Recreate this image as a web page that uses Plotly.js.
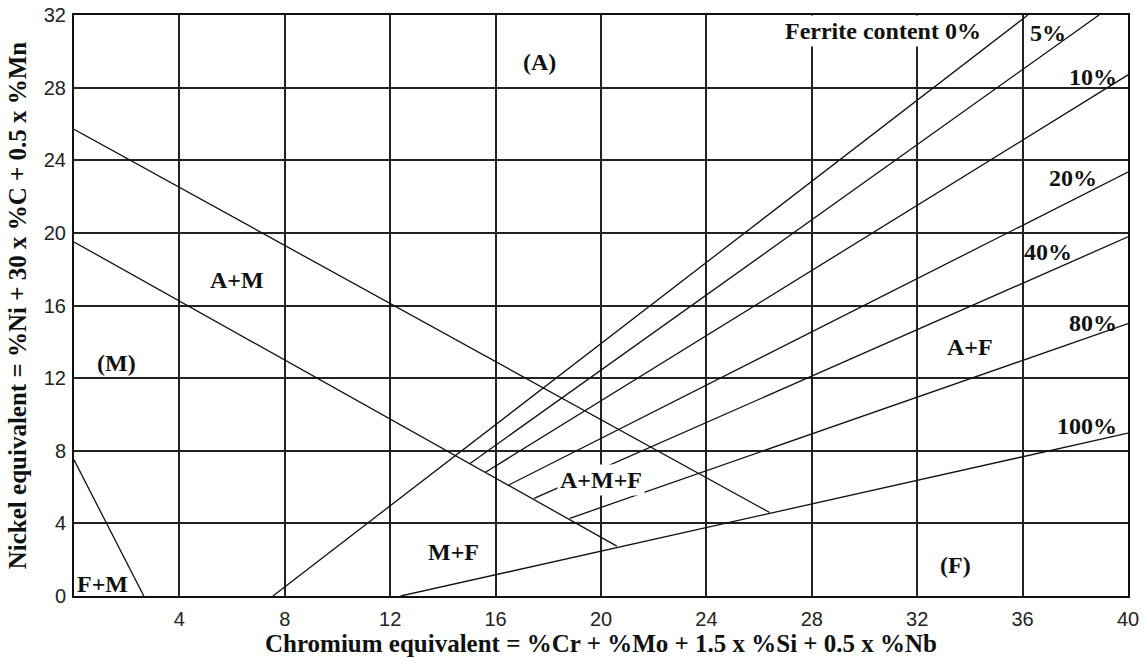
<!DOCTYPE html>
<html>
<head>
<meta charset="utf-8">
<script src="https://cdn.plot.ly/plotly-3.0.1.min.js"></script>
<style>html,body{margin:0;padding:0;background:#fff;}#chart{width:1147px;height:659px;}</style>
</head>
<body>
<div id="chart"></div>
<script>
// ---- Data ----
// Phase boundary lines (Cr_eq, Ni_eq)
const boundaryA_x = [0, 26.4];
const boundaryA_y = [25.7, 4.6];
const boundaryM_x = [0, 20.6];
const boundaryM_y = [19.5, 2.75];
const boundaryFM_x = [0, 2.65];
const boundaryFM_y = [7.5, 0];
// Iso-ferrite lines
const ferrite0_x = [7.55, 36.2];
const ferrite0_y = [0, 32];
const ferrite5_x = [15.03, 38.9];
const ferrite5_y = [7.3, 32];
const ferrite10_x = [15.6, 40];
const ferrite10_y = [6.8, 28.7];
const ferrite20_x = [16.48, 40];
const ferrite20_y = [6.1, 23.35];
const ferrite40_x = [17.46, 40];
const ferrite40_y = [5.38, 19.78];
const ferrite80_x = [18.82, 40];
const ferrite80_y = [4.28, 15.0];
const ferrite100_x = [12.4, 40];
const ferrite100_y = [0, 8.97];

// Region / line labels
const labelTexts = ["Ferrite content 0%", "5%", "10%", "20%", "40%", "80%", "100%",
  "(A)", "A+M", "(M)", "A+F", "A+M+F", "M+F", "(F)", "F+M"];
const labelX = [30.7, 36.97, 38.67, 37.9, 36.96, 38.67, 38.44,
  17.65, 6.2, 1.63, 34.0, 20.0, 14.42, 33.47, 1.1];
const labelY = [31.1, 31.0, 28.58, 23.0, 18.94, 15.03, 9.36,
  29.4, 17.4, 12.83, 13.7, 6.39, 2.42, 1.7, 0.66];
const labelBg = [true, false, false, false, false, false, false,
  false, false, false, false, true, false, false, false];

// Axis ticks
const xTicks = [4, 8, 12, 16, 20, 24, 28, 32, 36, 40];
const yTicks = [0, 4, 8, 12, 16, 20, 24, 28, 32];

const xTitle = "Chromium equivalent = %Cr + %Mo + 1.5 x %Si + 0.5 x %Nb";
const yTitle = "Nickel equivalent = %Ni + 30 x %C + 0.5 x %Mn";

const series = [
  [boundaryA_x, boundaryA_y], [boundaryM_x, boundaryM_y], [boundaryFM_x, boundaryFM_y],
  [ferrite0_x, ferrite0_y], [ferrite5_x, ferrite5_y], [ferrite10_x, ferrite10_y],
  [ferrite20_x, ferrite20_y], [ferrite40_x, ferrite40_y], [ferrite80_x, ferrite80_y],
  [ferrite100_x, ferrite100_y]
];

const traces = series.map(s => ({
  x: s[0], y: s[1], type: 'scatter', mode: 'lines',
  line: {color: '#111', width: 1.3}, hoverinfo: 'skip', showlegend: false
}));

const serif = 'Liberation Serif, Times New Roman, serif';
const annotations = labelTexts.map((t, i) => ({
  x: labelX[i], y: labelY[i], xref: 'x', yref: 'y', text: '<b>' + t + '</b>',
  showarrow: false, font: {family: serif, size: 24, color: '#111'},
  bgcolor: labelBg[i] ? '#ffffff' : 'rgba(0,0,0,0)',
  borderpad: labelBg[i] ? 2 : 0,
  xanchor: 'center', yanchor: 'middle'
}));

const tickFont = {family: 'Liberation Sans, Arial, sans-serif', size: 20, color: '#222'};

const layout = {
  width: 1147, height: 659,
  margin: {l: 74, r: 19, t: 15, b: 63, pad: 0},
  paper_bgcolor: '#fff', plot_bgcolor: '#fff',
  showlegend: false,
  xaxis: {
    range: [0, 40], tickvals: xTicks, ticktext: xTicks.map(String),
    ticks: '', showgrid: true, gridcolor: '#222', gridwidth: 2,
    zeroline: false, showline: true, linecolor: '#111', linewidth: 2, mirror: true,
    tickfont: tickFont, ticklabelstandoff: 4, ticklabeloverflow: 'allow',
    title: {text: '<b>' + xTitle + '</b>', font: {family: serif, size: 25, color: '#111'}, standoff: 4},
    fixedrange: true
  },
  yaxis: {
    range: [0, 32], tickvals: yTicks, ticktext: yTicks.map(String),
    ticks: '', showgrid: true, gridcolor: '#222', gridwidth: 2,
    zeroline: false, showline: true, linecolor: '#111', linewidth: 2, mirror: true,
    tickfont: tickFont, ticklabeloverflow: 'allow', ticklabelstandoff: 2,
    title: {text: '<b>' + yTitle + '</b>', font: {family: serif, size: 25, color: '#111'}, standoff: 10},
    fixedrange: true
  },
  annotations: annotations
};

Plotly.newPlot('chart', traces, layout, {displayModeBar: false, staticPlot: true});
</script>
</body>
</html>
